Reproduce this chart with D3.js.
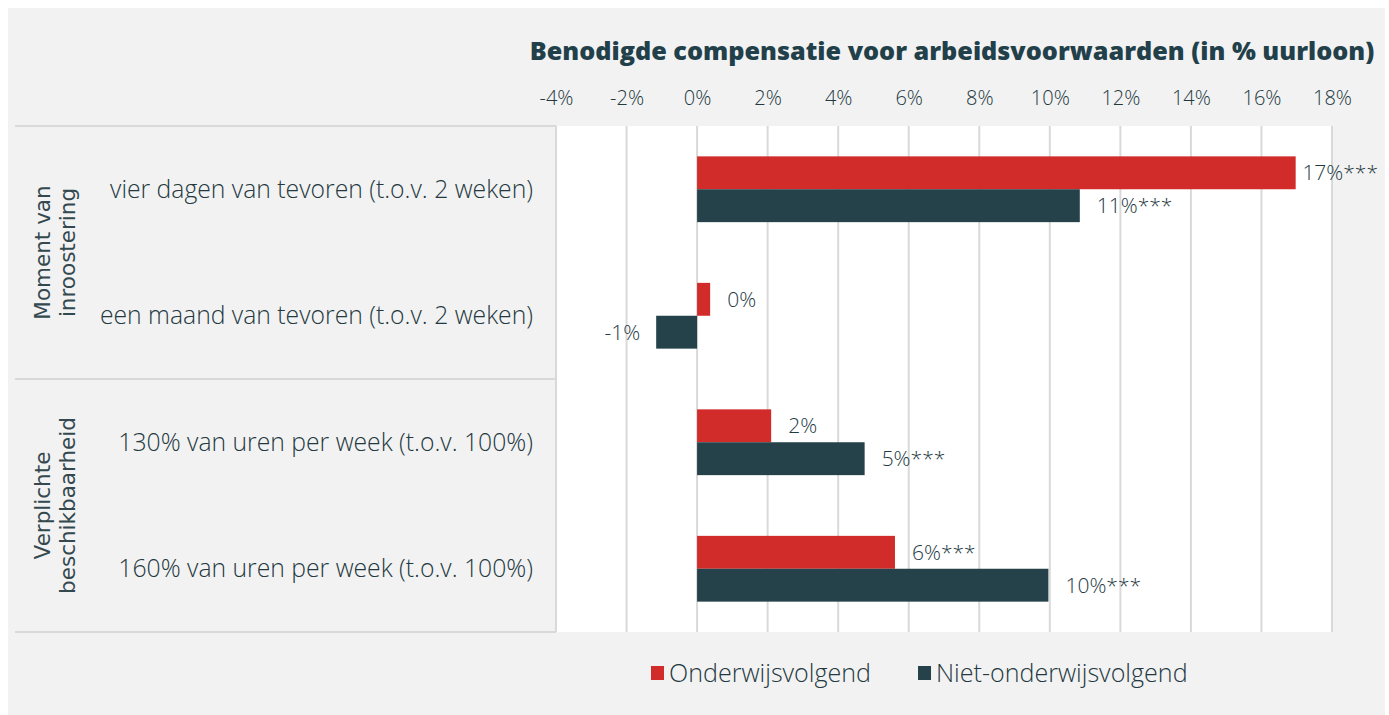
<!DOCTYPE html>
<html>
<head>
<meta charset="utf-8">
<script src="https://cdn.jsdelivr.net/npm/d3@7"></script>
<style>
  html, body { margin: 0; padding: 0; background: #ffffff; }
  svg { display: block; }
</style>
</head>
<body>
<svg id="chart" width="1389" height="715"></svg>
<script>
// categories (top to bottom)
const categories = [
  "vier dagen van tevoren (t.o.v. 2 weken)",
  "een maand van tevoren (t.o.v. 2 weken)",
  "130% van uren per week (t.o.v. 100%)",
  "160% van uren per week (t.o.v. 100%)"
];
const groupLabels = [["Moment van", "inroostering"], ["Verplichte", "beschikbaarheid"]];
const groupSizes = [2, 2];

const seriesNames = ["Onderwijsvolgend", "Niet-onderwijsvolgend"];
const seriesColors = ["#d12b2a", "#25424a"];
const onderwijsValues = [16.97, 0.37, 2.1, 5.61];
const nietValues = [10.85, -1.16, 4.75, 9.96];
const onderwijsLabels = ["17%***", "0%", "2%", "6%***"];
const nietLabels = ["11%***", "-1%", "5%***", "10%***"];

const tickValues = [-4, -2, 0, 2, 4, 6, 8, 10, 12, 14, 16, 18];
const axisTitle = "Benodigde compensatie voor arbeidsvoorwaarden (in % uurloon)";

const font = "'Open Sans', Lato, sans-serif";
const textColor = "#24393f";

const svg = d3.select("#chart");

// fit a text element to a target width by changing its font size
function fitWidth(sel, target) {
  const node = sel.node();
  const fs = parseFloat(sel.style("font-size"));
  const w = node.getComputedTextLength();
  sel.style("font-size", (fs * target / w).toFixed(2) + "px");
  return fs * target / w;
}

// chart background
svg.append("rect")
  .attr("x", 8).attr("y", 8)
  .attr("width", 1377).attr("height", 707)
  .attr("fill", "#f2f2f2");

const plot = { left: 556, right: 1332, top: 126, bottom: 632 };

const x = d3.scaleLinear().domain([-4, 18]).range([plot.left, plot.right]);
const y = d3.scaleBand().domain(categories)
  .range([plot.top, plot.bottom])
  .paddingInner(0.48).paddingOuter(0.24);
const ySub = d3.scaleBand().domain(seriesNames).range([0, y.bandwidth()]);

// plot area
svg.append("rect")
  .attr("x", plot.left).attr("y", plot.top)
  .attr("width", plot.right - plot.left).attr("height", plot.bottom - plot.top)
  .attr("fill", "#ffffff");

// gridlines
svg.append("g")
  .selectAll("line")
  .data(tickValues.slice(1))
  .join("line")
  .attr("x1", d => x(d)).attr("x2", d => x(d))
  .attr("y1", plot.top).attr("y2", plot.bottom)
  .attr("stroke", "#d9d9d9").attr("stroke-width", 2);

// left panel borders
const lineColor = "#d9d9d9";
const groupBounds = [plot.top];
let acc = 0;
groupSizes.forEach(n => {
  acc += n;
  groupBounds.push(plot.top + acc * y.step());
});
svg.append("g")
  .selectAll("line")
  .data(groupBounds)
  .join("line")
  .attr("x1", 15).attr("x2", plot.left)
  .attr("y1", d => d).attr("y2", d => d)
  .attr("stroke", lineColor).attr("stroke-width", 2);
svg.append("line")
  .attr("x1", plot.left).attr("x2", plot.left)
  .attr("y1", plot.top).attr("y2", plot.bottom)
  .attr("stroke", lineColor).attr("stroke-width", 2);

// axis title
const title = svg.append("text")
  .attr("x", 952).attr("y", 60)
  .attr("text-anchor", "middle")
  .style("font-family", font)
  .style("font-size", "24px").style("font-weight", 800)
  .style("fill", "#22404a")
  .text(axisTitle);
fitWidth(title, 845);

// tick labels (top axis)
const axis = d3.axisTop(x)
  .tickValues(tickValues)
  .tickFormat(d => d + "%")
  .tickSize(0).tickPadding(0);
const axisG = svg.append("g")
  .attr("transform", `translate(0, 105)`)
  .call(axis);
axisG.select(".domain").remove();
axisG.selectAll("text")
  .style("font-family", font)
  .style("font-size", "20px").style("font-weight", 300)
  .style("fill", textColor);

// category labels
const catText = svg.append("g")
  .selectAll("text")
  .data(categories)
  .join("text")
  .attr("x", 533)
  .attr("y", d => y(d) + y.bandwidth() / 2)
  .attr("dy", "0.35em")
  .attr("text-anchor", "end")
  .style("font-family", font)
  .style("font-size", "20px").style("font-weight", 300)
  .style("fill", textColor)
  .text(d => d);
const catSize = fitWidth(d3.select(catText.nodes()[0]), 423);
catText.style("font-size", catSize + "px");

// group labels (rotated)
groupLabels.forEach((lines, i) => {
  const cy = (groupBounds[i] + groupBounds[i + 1]) / 2;
  const t = svg.append("text")
    .attr("transform", `translate(55, ${cy}) rotate(-90)`)
    .attr("text-anchor", "middle")
    .style("font-family", "'DejaVu Sans', sans-serif")
    .style("font-size", "21.5px").style("font-weight", 400)
    .style("fill", "#34494f");
  lines.forEach((ln, j) => {
    t.append("tspan")
      .attr("x", 0)
      .attr("y", (j - (lines.length - 1) / 2) * 25)
      .attr("dy", "0.35em")
      .text(ln);
  });
});

// bars
const series = [
  { name: seriesNames[0], values: onderwijsValues, labels: onderwijsLabels, color: seriesColors[0] },
  { name: seriesNames[1], values: nietValues, labels: nietLabels, color: seriesColors[1] }
];

series.forEach(s => {
  const rows = categories.map((c, i) => ({ cat: c, v: s.values[i], label: s.labels[i] }));
  const g = svg.append("g");
  g.selectAll("rect")
    .data(rows)
    .join("rect")
    .attr("x", d => x(Math.min(0, d.v)))
    .attr("y", d => y(d.cat) + ySub(s.name))
    .attr("width", d => Math.abs(x(d.v) - x(0)))
    .attr("height", ySub.bandwidth())
    .attr("fill", s.color);

  g.selectAll("text")
    .data(rows)
    .join("text")
    .attr("y", d => y(d.cat) + ySub(s.name) + ySub.bandwidth() / 2)
    .attr("dy", "0.35em")
    .style("font-family", font)
    .style("font-size", "21px").style("font-weight", 300)
    .style("fill", textColor)
    .attr("text-anchor", d => d.v < 0 ? "end" : "start")
    .text(d => d.label)
    .attr("x", function (d) {
      if (d.v < 0) return x(d.v) - 16;
      const w = this.getComputedTextLength();
      return Math.min(x(d.v) + 17, 1378 - w);
    });
});

// legend
const legend = svg.append("g").attr("transform", "translate(651, 673)");
let lx = 0;
series.forEach((s, i) => {
  legend.append("rect")
    .attr("x", lx).attr("y", -7)
    .attr("width", 13).attr("height", 14)
    .attr("fill", s.color);
  const t = legend.append("text")
    .attr("x", lx + 18).attr("y", 0)
    .attr("dy", "0.35em")
    .style("font-family", font)
    .style("font-size", "22px").style("font-weight", 300)
    .style("fill", textColor)
    .text(s.name);
  if (i === 0) fitWidth(t, 202);
  else t.style("font-size", legend.select("text").style("font-size"));
  lx += 18 + t.node().getComputedTextLength() + 47;
});
</script>
</body>
</html>
